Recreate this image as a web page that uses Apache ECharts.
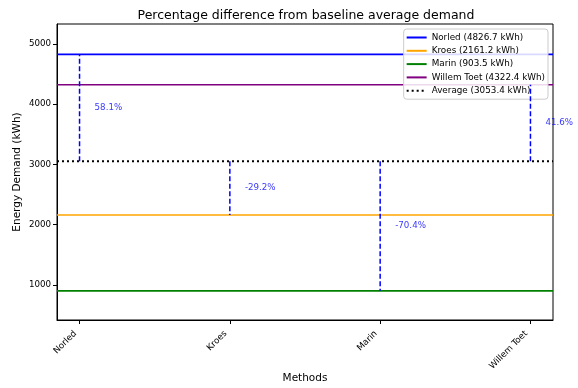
<!DOCTYPE html>
<html>
<head>
<meta charset="utf-8">
<script src="https://cdn.jsdelivr.net/npm/echarts@6/dist/echarts.min.js"></script>
<style>
  html, body { margin: 0; padding: 0; background: #fff; }
  #chart { width: 578px; height: 388px; }
</style>
</head>
<body>
<div id="chart"></div>
<script>
// Energy demand per method, in kWh
const methods = ['Norled', 'Kroes', 'Marin', 'Willem Toet'];
const demand = [4826.7, 2161.2, 903.5, 4322.4];
const lineColors = ['#0000ff', '#ffa500', '#008000', '#800080'];
const yTicks = [1000, 2000, 3000, 4000, 5000];

const average = demand.reduce((a, b) => a + b, 0) / demand.length;
const xMin = -0.15, xMax = methods.length - 1 + 0.15;
const FONT = 'DejaVu Sans';
const CLEAR = 'rgba(0,0,0,0)';

const series = [];

// Horizontal level for each method across the whole axis
methods.forEach((m, i) => {
  series.push({
    name: `${m} (${demand[i].toFixed(1)} kWh)`,
    type: 'line',
    symbol: 'none',
    silent: true,
    z: 3,
    lineStyle: { color: lineColors[i], width: 1.6 },
    itemStyle: { color: CLEAR, borderColor: CLEAR },
    data: [[xMin, demand[i]], [xMax, demand[i]]]
  });
});

// Baseline average
series.push({
  name: `Average (${average.toFixed(1)} kWh)`,
  type: 'line',
  symbol: 'none',
  silent: true,
  z: 4,
  lineStyle: { color: '#000', width: 2, type: [2, 3] },
  itemStyle: { color: CLEAR, borderColor: CLEAR },
  data: [[xMin, average], [xMax, average]]
});

// Dashed connector from the average to each method's level
methods.forEach((m, i) => {
  series.push({
    type: 'line',
    symbol: 'none',
    silent: true,
    z: 5,
    lineStyle: { color: '#0000ff', width: 1.5, type: [5, 2.5] },
    data: [[i, average], [i, demand[i]]]
  });
});

// Percentage difference labels
series.push({
  type: 'scatter',
  symbolSize: 0,
  silent: true,
  clip: false,
  z: 6,
  data: methods.map((m, i) => ({
    value: [i + 0.1, (average + demand[i]) / 2],
    pct: (demand[i] - average) / average * 100
  })),
  label: {
    show: true,
    position: [0, 0],
    align: 'left',
    verticalAlign: 'middle',
    color: '#0000ff',
    fontFamily: FONT,
    fontSize: 8.7,
    formatter: p => p.data.pct.toFixed(1) + '%'
  }
});

const chart = echarts.init(document.getElementById('chart'), null, { renderer: 'canvas' });
chart.setOption({
  animation: false,
  backgroundColor: '#fff',
  title: {
    text: 'Percentage difference from baseline average demand',
    left: 301,
    textAlign: 'center',
    top: 4,
    textStyle: { fontFamily: FONT, fontSize: 12.5, fontWeight: 'normal', color: '#000' }
  },
  legend: {
    data: series.slice(0, 5).map(s => s.name),
    orient: 'vertical',
    right: 30,
    top: 29,
    itemWidth: 20,
    itemHeight: 8,
    itemGap: 4.3,
    padding: [4, 3, 4, 2],
    backgroundColor: 'rgba(255,255,255,0.85)',
    borderColor: '#cccccc',
    borderWidth: 1,
    borderRadius: 3,
    textStyle: { fontFamily: FONT, fontSize: 8.8, color: '#000' }
  },
  grid: {
    left: 57, right: 25, top: 24, bottom: 68,
    containLabel: false,
    outerBoundsMode: 'none',
    show: true, borderColor: '#000', borderWidth: 1, backgroundColor: 'transparent'
  },
  xAxis: {
    type: 'value',
    min: xMin,
    max: xMax,
    name: 'Methods',
    nameLocation: 'middle',
    nameGap: 53,
    nameMoveOverlap: false,
    nameTextStyle: { fontFamily: FONT, fontSize: 10.5, color: '#000', verticalAlign: 'top' },
    axisLine: { show: true, onZero: false, lineStyle: { color: '#000' } },
    splitLine: { show: false },
    axisTick: { show: true, length: 4, lineStyle: { color: '#000' }, customValues: methods.map((m, i) => i) },
    axisLabel: {
      customValues: methods.map((m, i) => i),
      rotate: 45,
      margin: 8,
      padding: [0, 6, 0, 0],
      fontFamily: FONT,
      fontSize: 8.7,
      color: '#000',
      formatter: v => methods[Math.round(v)]
    }
  },
  yAxis: {
    type: 'value',
    min: 420,
    max: 5330,
    name: 'Energy Demand (kWh)',
    nameLocation: 'middle',
    nameGap: 34,
    nameMoveOverlap: false,
    nameTextStyle: { fontFamily: FONT, fontSize: 10.5, color: '#000' },
    axisLine: { show: true, onZero: false, lineStyle: { color: '#000' } },
    splitLine: { show: false },
    axisTick: { show: true, length: 4, lineStyle: { color: '#000' }, customValues: yTicks },
    axisLabel: {
      customValues: yTicks,
      margin: 6,
      fontFamily: FONT,
      fontSize: 8.7,
      color: '#000',
      formatter: v => String(v)
    }
  },
  series: series
});
</script>
</body>
</html>
